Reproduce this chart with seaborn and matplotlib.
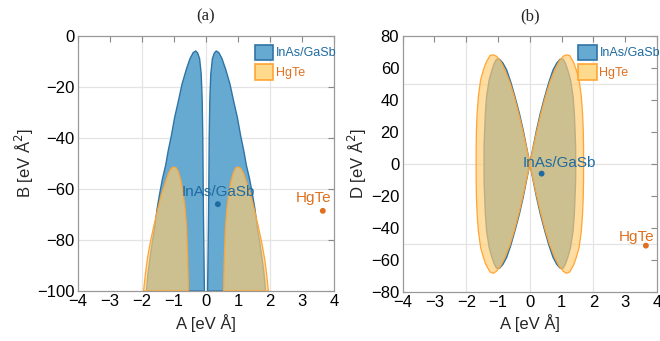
import numpy as np
import pandas as pd
import seaborn as sns
import matplotlib.pyplot as plt
from matplotlib.colors import to_rgba
from matplotlib.patches import Patch

# material parameters (dots on both panels)
materials = ["InAs/GaSb", "HgTe"]
mat_A = [0.37, 3.65]
mat_B = [-66.0, -68.6]
mat_D = [-6.2, -51.2]

# panel (a): right lobes of the allowed regions
blue_a_A = [0.05, 0.06, 0.07, 0.08, 0.09, 0.10, 0.12, 0.15, 0.20, 0.26, 0.32, 0.40, 0.50, 0.61,
            0.75, 0.87, 0.98, 1.08, 1.18, 1.26, 1.36, 1.45, 1.53, 1.60, 1.68, 1.76, 1.82, 1.86]
blue_a_B = [-100, -90, -80, -70, -55, -40, -25, -15, -9, -6.8, -6, -6.6, -9, -13,
            -19, -26, -32, -39, -45, -50.7, -56, -62, -68, -75, -81, -88, -94, -100]
orange_a_A = [0.55, 0.56, 0.57, 0.59, 0.61, 0.65, 0.71, 0.78, 0.86, 0.93, 1.0, 1.08, 1.17,
              1.27, 1.39, 1.52, 1.64, 1.75, 1.84, 1.90, 1.95]
orange_a_B = [-100, -94, -88, -81, -75, -68, -62, -57, -53.5, -51.8, -51.4, -51.9, -53.8,
              -57.5, -62, -68.5, -75, -81.5, -88, -94, -100]

# panel (b): right lobes (bow tie)
blue_b_A = [0, 0.10, 0.21, 0.33, 0.47, 0.60, 0.73, 0.85, 0.95, 1.00, 1.05, 1.12, 1.20, 1.28,
            1.36, 1.40, 1.42, 1.44, 1.44, 1.44, 1.42, 1.40, 1.36, 1.28, 1.20, 1.12, 1.05,
            1.00, 0.95, 0.85, 0.73, 0.60, 0.47, 0.33, 0.21, 0.10, 0]
blue_b_D = [0, 10, 21, 31.5, 42, 51, 58.6, 63, 65.2, 65.5, 65.2, 62.7, 58, 52.3,
            42, 31, 21, 10, 0, -10, -21, -31, -42, -52.3, -58, -62.7, -65.2,
            -65.5, -65.2, -63, -58.6, -51, -42, -31.5, -21, -10, 0]
orange_b_A = [0, 0.10, 0.22, 0.35, 0.49, 0.63, 0.78, 0.92, 1.05, 1.15, 1.25, 1.33, 1.39, 1.47,
              1.55, 1.62, 1.66, 1.68, 1.69, 1.69, 1.69, 1.68, 1.66, 1.62, 1.55, 1.47, 1.39,
              1.33, 1.25, 1.15, 1.05, 0.92, 0.78, 0.63, 0.49, 0.35, 0.22, 0.10, 0]
orange_b_D = [0, 9.5, 20.5, 31.5, 42, 51, 58.5, 64, 67.2, 68, 67.7, 65, 62.7, 58,
              52.3, 42, 31, 21, 10, 0, -10, -21, -31, -42, -52.3, -58, -62.7,
              -65, -67.7, -68.5, -67.2, -64, -58.5, -51, -42, -31.5, -20.5, -9.5, 0]

blue_fill = "#66aad2"
blue_edge = "#2f74a6"
orange_fill = to_rgba("#ffcb71", 0.67)
orange_edge = "#ffa534"
blue_txt = "#1f6aa0"
orange_txt = "#e0701e"

sns.set_theme(style="white")
plt.rcParams['font.family'] = ['Liberation Sans', 'DejaVu Sans']

pts = pd.DataFrame({"material": materials, "A": mat_A, "B": mat_B, "D": mat_D})

fig = plt.figure(figsize=(6.6, 3.41), dpi=100)
ax1 = fig.add_axes([78 / 660, 1 - 291 / 341, 256 / 660, 255.3 / 341])
ax2 = fig.add_axes([402.7 / 660, 1 - 291.7 / 341, 254.3 / 660, 256 / 341])


def draw_lobes(ax, bx, by, ox, oy):
    for sgn in (1, -1):
        ax.fill([sgn * a for a in bx], by, facecolor=blue_fill, edgecolor=blue_edge,
                lw=1.0, zorder=2)
    for sgn in (1, -1):
        ax.fill([sgn * a for a in ox], oy, facecolor=orange_fill, edgecolor=orange_edge,
                lw=0.9, zorder=3)


def style_axes(ax, xgrid, ygrid):
    for x in xgrid:
        ax.axvline(x, color="#e4e4e4", lw=0.9, zorder=0)
    for y in ygrid:
        ax.axhline(y, color="#e4e4e4", lw=0.9, zorder=0)
    ax.set_xlim(-4, 4)
    ax.set_xticks(range(-4, 5))
    ax.tick_params(direction="in", length=4, width=0.8, color="#888888",
                   top=True, right=True, labelsize=12, pad=2.5, labelcolor="black")
    for s in ax.spines.values():
        s.set_color("#999999")
        s.set_linewidth(0.9)
    handles = [Patch(facecolor=blue_fill, edgecolor=blue_edge, lw=1.2, label=materials[0]),
               Patch(facecolor="#ffd98c", edgecolor=orange_edge, lw=1.2, label=materials[1])]
    leg = ax.legend(handles=handles, loc="upper left", bbox_to_anchor=(0.69, 0.965),
                    frameon=False, fontsize=9, handlelength=1.5, handleheight=1.5,
                    handletextpad=0.2, labelspacing=0.35, borderpad=0, borderaxespad=0)
    for t, c in zip(leg.get_texts(), [blue_txt, orange_txt]):
        t.set_color(c)


# ---- panel (a)
draw_lobes(ax1, blue_a_A, blue_a_B, orange_a_A, orange_a_B)
style_axes(ax1, [-2, 0, 2], [-20, -40, -60, -80])
ax1.set_ylim(-100, 0)
ax1.set_yticks(range(-100, 1, 20))
sns.scatterplot(data=pts, x="A", y="B", hue="material", palette=[blue_txt, orange_txt],
                s=18, edgecolor="none", legend=False, zorder=5, ax=ax1)
ax1.set_xlabel("A [eV Å]", fontsize=12, labelpad=3)
ax1.set_ylabel("B [eV Å$^2$]", fontsize=12, labelpad=1)
ax1.annotate(materials[0], (mat_A[0], mat_B[0]), xytext=(0, 9), textcoords="offset points",
             ha="center", va="center", fontsize=11, color=blue_txt, zorder=6)
ax1.annotate(materials[1], (mat_A[1], mat_B[1]), xytext=(-7, 9), textcoords="offset points",
             ha="center", va="center", fontsize=11, color=orange_txt, zorder=6)
ax1.set_title("(a)", family=["Liberation Serif", "DejaVu Serif"], fontsize=12, pad=11)

# ---- panel (b)
draw_lobes(ax2, blue_b_A, blue_b_D, orange_b_A, orange_b_D)
style_axes(ax2, [-2, 0, 2], [-50, 0, 50])
ax2.set_ylim(-80, 80)
ax2.set_yticks(range(-80, 81, 20))
sns.scatterplot(data=pts, x="A", y="D", hue="material", palette=[blue_txt, orange_txt],
                s=18, edgecolor="none", legend=False, zorder=5, ax=ax2)
ax2.set_xlabel("A [eV Å]", fontsize=12, labelpad=3)
ax2.set_ylabel("D [eV Å$^2$]", fontsize=12, labelpad=1)
ax2.annotate(materials[0], (mat_A[0], mat_D[0]), xytext=(13, 8), textcoords="offset points",
             ha="center", va="center", fontsize=11, color=blue_txt, zorder=6)
ax2.annotate(materials[1], (mat_A[1], mat_D[1]), xytext=(-7, 6.5), textcoords="offset points",
             ha="center", va="center", fontsize=11, color=orange_txt, zorder=6)
ax2.set_title("(b)", family=["Liberation Serif", "DejaVu Serif"], fontsize=12, pad=11)

fig.savefig("out.png", dpi=100)
